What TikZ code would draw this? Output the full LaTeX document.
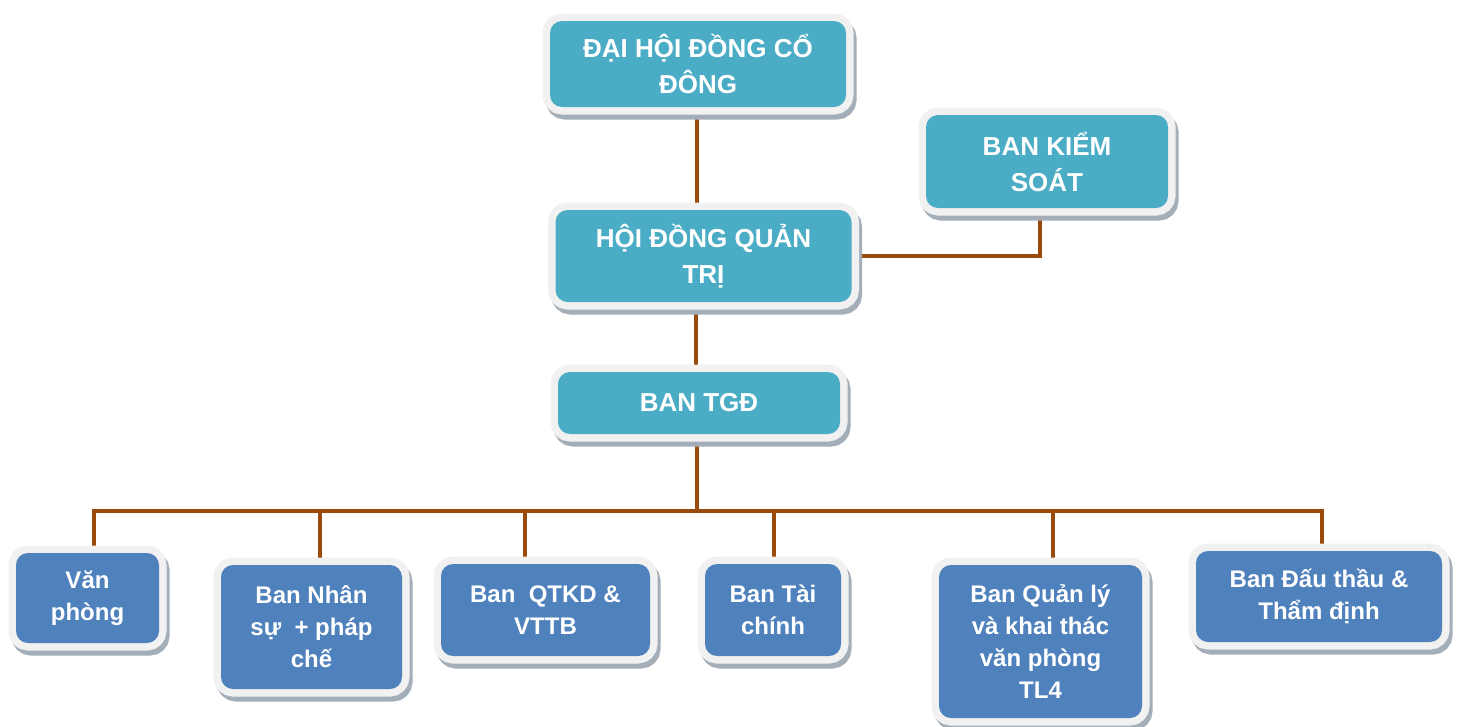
\documentclass[tikz,border=0pt]{standalone}
\usepackage{fontspec}
\setmainfont{Liberation Sans}
\definecolor{topc}{HTML}{4BACC6}
\definecolor{botc}{HTML}{4F81BD}
\definecolor{framec}{HTML}{F1F1F1}
\definecolor{shadowc}{HTML}{A4AEB8}
\definecolor{linec}{HTML}{9A4A0A}
\pgfdeclarelayer{background}
\pgfsetlayers{background,main}
\tikzset{
  box/.style={rounded corners=12pt, inner sep=0pt, align=center, text=white,
    preaction={fill=shadowc, draw=shadowc, line width=15pt, transform canvas={shift={(3pt,-5pt)}}},
    preaction={draw=framec, line width=15pt}},
  topbox/.style={box, fill=topc, font=\fontsize{26}{36}\selectfont\bfseries},
  botbox/.style={box, fill=botc, font=\fontsize{24}{32}\selectfont\bfseries},
  conn/.style={draw=linec, line width=4.5pt}
}
\begin{document}
\begin{tikzpicture}[x=1pt,y=-1pt]
\useasboundingbox (0,0) rectangle (1460,726);
% top boxes
\node[topbox, minimum width=296pt, minimum height=86pt] (dhd) at (698,64) {ĐẠI HỘI ĐỒNG CỔ\\ĐÔNG};
\node[topbox, minimum width=242pt, minimum height=93pt] (bks) at (1047,161.5) {BAN KIỂM\\SOÁT};
\node[topbox, minimum width=296pt, minimum height=92pt] (hdqt) at (703.5,256) {HỘI ĐỒNG QUẢN\\TRỊ};
\node[topbox, minimum width=282pt, minimum height=62pt] (tgd) at (699,403) {BAN TGĐ};
% bottom boxes
\node[botbox, minimum width=143pt, minimum height=90pt] (vp) at (87.5,598) {Văn\\phòng};
\node[botbox, minimum width=181pt, minimum height=124pt] (ns) at (311.5,627) {Ban Nhân\\sự\ \ + pháp\\chế};
\node[botbox, minimum width=209pt, minimum height=92pt] (qtkd) at (545.5,610) {Ban\ \ QTKD \&\\VTTB};
\node[botbox, minimum width=136pt, minimum height=92pt] (tc) at (773,610) {Ban Tài\\chính};
\node[botbox, minimum width=203pt, minimum height=153pt] (ql) at (1040.5,641.5) {Ban Quản lý\\và khai thác\\văn phòng\\TL4};
\node[botbox, minimum width=246pt, minimum height=91pt] (dt) at (1319,596.5) {Ban Đấu thầu \&\\Thẩm định};
% connectors
\coordinate (bus) at (697,511);
\begin{pgfonlayer}{background}
\draw[conn] ([xshift=-1pt]dhd.south) -- ([xshift=-1pt]dhd.south |- hdqt.north);
\draw[conn] (hdqt.east) -| ([xshift=-7pt]bks.south);
\draw[conn] ([xshift=-3pt]tgd.north |- hdqt.south) -- ([xshift=-3pt]tgd.north);
\draw[conn] ([xshift=-2pt]tgd.south) -- (bus);
\draw[conn, line cap=rect] ([xshift=6.5pt]vp.north |- bus) -- ([xshift=3pt]dt.north |- bus);
\draw[conn] ([xshift=6.5pt]vp.north |- bus) -- ([xshift=6.5pt]vp.north);
\draw[conn] ([xshift=8.5pt]ns.north |- bus) -- ([xshift=8.5pt]ns.north);
\draw[conn] ([xshift=-20.5pt]qtkd.north |- bus) -- ([xshift=-20.5pt]qtkd.north);
\draw[conn] ([xshift=1pt]tc.north |- bus) -- ([xshift=1pt]tc.north);
\draw[conn] ([xshift=12.5pt]ql.north |- bus) -- ([xshift=12.5pt]ql.north);
\draw[conn] ([xshift=3pt]dt.north |- bus) -- ([xshift=3pt]dt.north);
\end{pgfonlayer}
\end{tikzpicture}
\end{document}
